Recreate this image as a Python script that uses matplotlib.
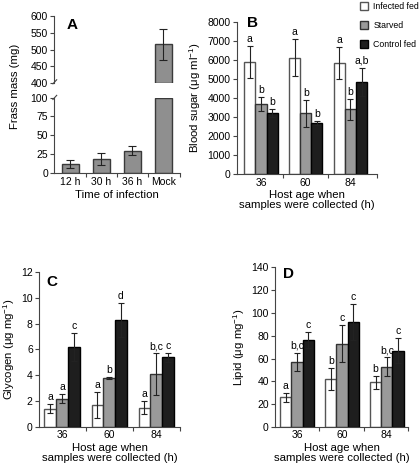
import matplotlib
matplotlib.use("Agg")
import matplotlib.pyplot as plt
import numpy as np
from matplotlib.patches import Patch

plt.rcParams['font.family'] = ['Liberation Sans', 'DejaVu Sans']
plt.rcParams['mathtext.fontset'] = 'custom'
plt.rcParams['mathtext.rm'] = 'Liberation Sans'
plt.rcParams['mathtext.it'] = 'Liberation Sans'
plt.rcParams['mathtext.default'] = 'regular'

# ---------------- data ----------------
frass_labels = ["12 h", "30 h", "36 h", "Mock"]
frass_mean = [12, 18, 29, 515]
frass_err = [5, 8, 6, 45]

ages = ["36", "60", "84"]
groups = ["Infected fed", "Starved", "Control fed"]

sugar_mean = {"Infected fed": [5880, 6130, 5850],
              "Starved": [3680, 3200, 3400],
              "Control fed": [3200, 2700, 4850]}
sugar_err = {"Infected fed": [850, 950, 850],
             "Starved": [380, 700, 530],
             "Control fed": [200, 100, 730]}
sugar_letters = {"Infected fed": ["a", "a", "a"],
                 "Starved": ["b", "b", "b"],
                 "Control fed": ["b", "b", "a,b"]}

glyc_mean = {"Infected fed": [1.4, 1.7, 1.5],
             "Starved": [2.2, 3.8, 4.1],
             "Control fed": [6.2, 8.3, 5.4]}
glyc_err = {"Infected fed": [0.35, 1.0, 0.5],
            "Starved": [0.35, 0.1, 1.6],
            "Control fed": [1.1, 1.3, 0.35]}
glyc_letters = {"Infected fed": ["a", "a", "a"],
                "Starved": ["a", "b", "b,c"],
                "Control fed": ["c", "d", "c"]}

lipid_mean = {"Infected fed": [26, 42, 39],
              "Starved": [57, 73, 53],
              "Control fed": [76, 92, 67]}
lipid_err = {"Infected fed": [4, 10, 6],
             "Starved": [8, 16, 8],
             "Control fed": [7, 16, 11]}
lipid_letters = {"Infected fed": ["a", "b", "b"],
                 "Starved": ["b,c", "c", "b,c"],
                 "Control fed": ["c", "c", "c"]}

colors = {"Infected fed": "white", "Starved": "#9a9a9a", "Control fed": "#1e1e1e"}
edges = {"Infected fed": "#555555", "Starved": "#333333", "Control fed": "#000000"}

TICK_FS = 7.5
LAB_FS = 8.2
LET_FS = 7.5
SPINE_C = "#444444"

fig = plt.figure(figsize=(4.2, 4.67), dpi=100)


def style_ax(ax):
    for s in ["top", "right"]:
        ax.spines[s].set_visible(False)
    for s in ["left", "bottom"]:
        ax.spines[s].set_color(SPINE_C)
        ax.spines[s].set_linewidth(0.8)
    ax.tick_params(axis="both", labelsize=TICK_FS, width=0.8, length=3,
                   color=SPINE_C, pad=1.5)


# ---------------- Panel A (broken axis) ----------------
axA_top = fig.add_axes([0.129, 0.822, 0.300, 0.144])
axA_bot = fig.add_axes([0.129, 0.630, 0.300, 0.161])
xA = np.arange(len(frass_labels))
barw = 0.55
lo_top, hi_top = 400, 600
lo_bot, hi_bot = 0, 100

for ax in (axA_top, axA_bot):
    style_ax(ax)
    ax.set_xlim(-0.52, 3.55)

# bottom part
bot_h = [min(v, hi_bot) for v in frass_mean]
axA_bot.bar(xA, bot_h, width=barw, color="#8f8f8f", edgecolor="#3a3a3a", linewidth=1.0)
for i, (m, e) in enumerate(zip(frass_mean, frass_err)):
    if m <= hi_bot:
        axA_bot.errorbar(xA[i], m, yerr=e, fmt="none", ecolor="#222222",
                         elinewidth=0.8, capsize=3, capthick=0.8)
axA_bot.set_ylim(lo_bot, hi_bot)
axA_bot.set_yticks([0, 25, 50, 75, 100])
axA_bot.set_xticks(xA)
axA_bot.set_xticklabels(frass_labels)
axA_bot.tick_params(axis="x", length=0, pad=3)
axA_bot.set_xticks([0.5, 1.5, 2.5, 3.55], minor=True)
axA_bot.tick_params(axis="x", which="minor", length=3, width=0.8, color=SPINE_C)
axA_bot.set_xlabel("Time of infection", fontsize=LAB_FS, labelpad=2)

# top part
for i, (m, e) in enumerate(zip(frass_mean, frass_err)):
    if m > lo_top:
        axA_top.bar(xA[i], m - lo_top, bottom=lo_top, width=barw, color="#8f8f8f",
                    edgecolor="#3a3a3a", linewidth=1.0)
        axA_top.errorbar(xA[i], m, yerr=e, fmt="none", ecolor="#222222",
                         elinewidth=0.8, capsize=3, capthick=0.8)
axA_top.set_ylim(lo_top, hi_top)
axA_top.set_yticks([400, 450, 500, 550, 600])
axA_top.spines["bottom"].set_visible(False)
axA_top.set_xticks([])

# break marks
axA_top.plot([-0.01, 0.02], [-0.01, 0.05], transform=axA_top.transAxes,
             color=SPINE_C, lw=0.8, clip_on=False)
axA_bot.plot([-0.01, 0.02], [0.975, 1.03], transform=axA_bot.transAxes,
             color=SPINE_C, lw=0.8, clip_on=False)

fig.text(0.036, 0.815, "Frass mass (mg)", rotation=90, ha="center", va="center",
         fontsize=LAB_FS)
axA_top.text(0.10, 0.97, "A", transform=axA_top.transAxes, fontsize=11,
             fontweight="bold", ha="left", va="top")


# ---------------- grouped bar helper ----------------
def grouped(ax, means, errs, letters, ylim, yticks, ylabel, xlim):
    style_ax(ax)
    x = np.arange(len(ages))
    w = 0.25
    for j, g in enumerate(groups):
        pos = x + (j - 1) * w
        ax.bar(pos, means[g], width=w, color=colors[g], edgecolor=edges[g],
               linewidth=1.0, zorder=2)
        ax.errorbar(pos, means[g], yerr=errs[g], fmt="none", ecolor="#222222",
                    elinewidth=0.8, capsize=2.5, capthick=0.8, zorder=3)
        for k in range(len(ages)):
            ax.annotate(letters[g][k], (pos[k], means[g][k] + errs[g][k]),
                        xytext=(0, 1.5), textcoords="offset points",
                        ha="center", va="bottom", fontsize=LET_FS)
    ax.set_xlim(*xlim)
    ax.set_ylim(*ylim)
    ax.set_yticks(yticks)
    ax.set_xticks(x)
    ax.set_xticklabels(ages)
    ax.tick_params(axis="x", which="major", length=0, pad=2.5)
    ax.set_xticks([0.5, 1.5, xlim[1]], minor=True)
    ax.tick_params(axis="x", which="minor", length=3, width=0.8, color=SPINE_C)
    ax.set_ylabel(ylabel, fontsize=LAB_FS, labelpad=3)
    ax.set_xlabel("Host age when\nsamples were collected (h)", fontsize=LAB_FS,
                  labelpad=1.5, linespacing=1.0)


# ---------------- Panel B ----------------
axB = fig.add_axes([0.564, 0.627, 0.334, 0.326])
grouped(axB, sugar_mean, sugar_err, sugar_letters, (0, 8000),
        np.arange(0, 8001, 1000), "Blood sugar (μg ml$^{-1}$)", (-0.54, 2.6))
axB.text(0.07, 1.04, "B", transform=axB.transAxes, fontsize=11,
         fontweight="bold", ha="left", va="top")

handles = [Patch(facecolor=colors[g], edgecolor=edges[g], linewidth=1.0) for g in groups]
fig.legend(handles, groups, loc="upper left", bbox_to_anchor=(0.858, 0.996),
           frameon=False, fontsize=6.3, handlelength=0.9, handleheight=1.0,
           labelspacing=1.15, handletextpad=0.6, borderaxespad=0, borderpad=0)

# ---------------- Panel C ----------------
axC = fig.add_axes([0.093, 0.0857, 0.336, 0.332])
grouped(axC, glyc_mean, glyc_err, glyc_letters, (0, 12), np.arange(0, 13, 2),
        "Glycogen (μg mg$^{-1}$)", (-0.49, 2.51))
axC.text(0.05, 0.98, "C", transform=axC.transAxes, fontsize=11,
         fontweight="bold", ha="left", va="top")

# ---------------- Panel D ----------------
axD = fig.add_axes([0.655, 0.0857, 0.316, 0.342])
grouped(axD, lipid_mean, lipid_err, lipid_letters, (0, 140), np.arange(0, 141, 20),
        "Lipid (μg mg$^{-1}$)", (-0.49, 2.47))
axD.text(0.06, 1.0, "D", transform=axD.transAxes, fontsize=11,
         fontweight="bold", ha="left", va="top")

fig.savefig("out.png", dpi=100, facecolor="white")
